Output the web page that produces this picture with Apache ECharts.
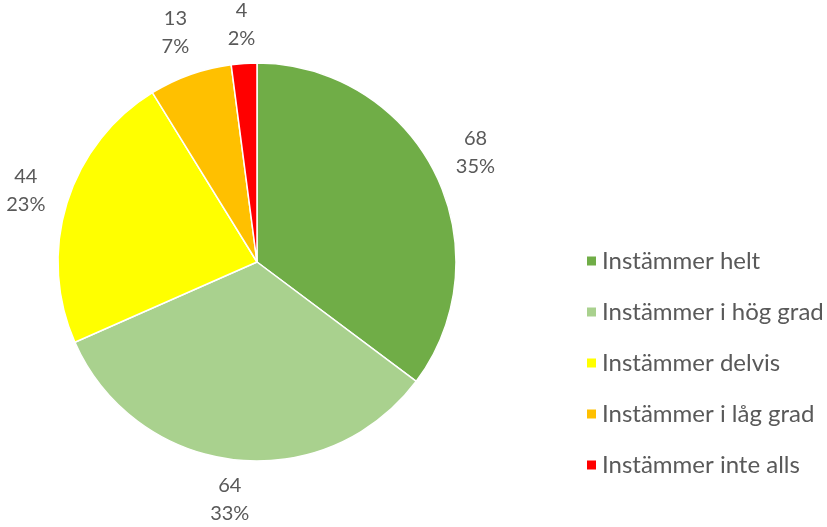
<!DOCTYPE html>
<html>
<head>
<meta charset="utf-8">
<script src="https://cdn.jsdelivr.net/npm/echarts@6/dist/echarts.min.js"></script>
<style>
html,body{margin:0;padding:0;background:#fff;}
#c{width:827px;height:527px;}
</style>
</head>
<body>
<div id="c"></div>
<script>
var categories = ['Instämmer helt', 'Instämmer i hög grad', 'Instämmer delvis', 'Instämmer i låg grad', 'Instämmer inte alls'];
var values = [68, 64, 44, 13, 4];
var colors = ['#70AD47', '#A9D18E', '#FFFF00', '#FFC000', '#FF0000'];

var FONT = 'Lato';
var TEXT = '#595959';
var GAP = 14;

var data = categories.map(function (name, i) {
  return { name: name, value: values[i], itemStyle: { color: colors[i] } };
});

var chart = echarts.init(document.getElementById('c'));
chart.setOption({
  animation: false,
  backgroundColor: '#ffffff',
  legend: {
    orient: 'vertical',
    left: 580,
    top: 244,
    icon: 'rect',
    itemWidth: 11,
    itemHeight: 11,
    itemGap: 27,
    textStyle: { color: TEXT, fontFamily: FONT, fontSize: 24, lineHeight: 24 },
    data: categories
  },
  series: [{
    type: 'pie',
    center: [257, 262],
    radius: 199,
    startAngle: 90,
    clockwise: true,
    avoidLabelOverlap: false,
    percentPrecision: 0,
    itemStyle: { borderColor: '#ffffff', borderWidth: 1.5 },
    label: {
      show: true,
      position: 'outside',
      formatter: function (p) {
        return '{a|' + p.value + '}\n{a|' + Math.round(p.percent) + '%}';
      },
      rich: {
        a: { color: TEXT, fontFamily: FONT, fontSize: 20, lineHeight: 28, width: 46, align: 'center' }
      }
    },
    labelLine: { show: true, length: 10, length2: 0, lineStyle: { opacity: 0 } },
    labelLayout: function (p) {
      var pts = p.labelLinePoints;
      if (!pts || pts.length < 2) return {};
      var p0 = pts[0], p1 = pts[1];
      var dx = p1[0] - p0[0], dy = p1[1] - p0[1];
      var len = Math.sqrt(dx * dx + dy * dy) || 1;
      dx /= len; dy /= len;
      var w = p.labelRect.width, h = p.labelRect.height;
      var off = GAP + Math.abs(dx) * w / 2 + Math.abs(dy) * h / 2;
      return { x: p0[0] + dx * off, y: p0[1] + dy * off, align: 'center', verticalAlign: 'middle' };
    },
    emphasis: { disabled: true },
    data: data
  }]
});
</script>
</body>
</html>
